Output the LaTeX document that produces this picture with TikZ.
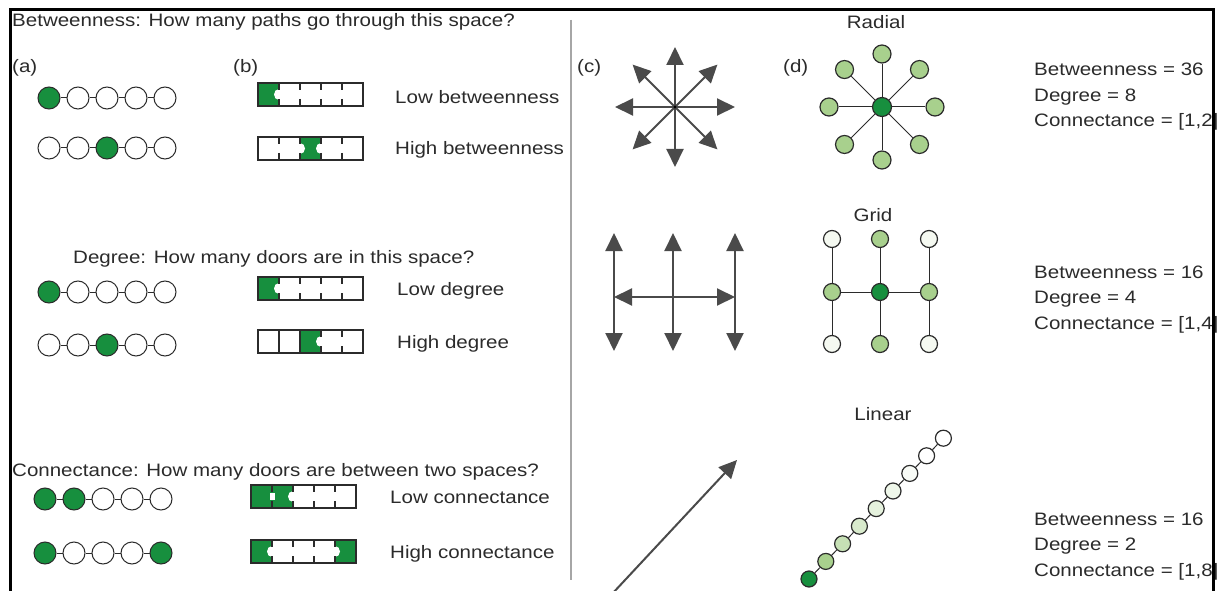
\documentclass[tikz,border=0pt]{standalone}
\usepackage{fontspec}
\setmainfont{Liberation Sans}[FakeStretch=1.14]
\usetikzlibrary{arrows.meta}
\definecolor{leaf}{HTML}{178F3E}
\definecolor{sage}{HTML}{A8D08D}
\definecolor{ink}{HTML}{2B2B2B}
\definecolor{steel}{HTML}{4A4A4A}
\newcommand{\doors}[1]{\foreach \w in {#1} \draw[wall] (\w,0) -- (\w,7) (\w,16) -- (\w,23);}
\newcommand{\notch}[1]{\foreach \w in {#1} \fill[white] (\w,11.5) ellipse (5 and 5.5);}

\begin{document}
\begin{tikzpicture}[x=1pt, y=-1pt,
  txt/.style={font=\fontsize{18}{21}\selectfont, text=ink, inner sep=0pt, anchor=base west},
  tag/.style={txt, anchor=base},
  room/.style={circle, draw=ink, line width=1pt, minimum size=22pt, inner sep=0pt, fill=white},
  knot/.style={circle, draw=ink, line width=1.2pt, minimum size=18pt, inner sep=0pt, fill=sage},
  link/.style={draw=ink, line width=1pt},
  wall/.style={draw=ink, line width=1.2pt},
  ray/.style={-{Triangle[length=18pt, width=17pt]}, steel, line width=2pt},
  flow/.style={{Triangle[length=18pt, width=17pt]}-{Triangle[length=18pt, width=17pt]}, steel, line width=2pt},
]
\useasboundingbox (0,0) rectangle (1218,591);
\fill[white] (0,0) rectangle (1218,591);

% (a) chains of spaces
\foreach \row/\y/\xa/\ga/\gb in {bl/98/49/1/0, bh/148/49/3/0, dl/292/49/1/0, dh/345/49/3/0, cl/499/45/1/2, ch/553/45/1/5} {
  \foreach \i in {1,...,5} {
    \pgfmathparse{ifthenelse(or(\i==\ga,\i==\gb),"leaf","white")}
    \edef\shade{\pgfmathresult}
    \node[room, fill=\shade] (\row\i) at ({\xa+29*(\i-1)},\y) {};
  }
  \foreach \i [evaluate=\i as \j using int(\i+1)] in {1,...,4}
    \draw[link] (\row\i) -- (\row\j);
}

% (b) floor plans
\begin{scope}[shift={(258,83)}]
  \fill[leaf] (0,0) rectangle (21,23);
  \notch{21}
  \doors{21,42,63,84}
  \draw[wall] (0,0) rectangle (105,23);
\end{scope}
\begin{scope}[shift={(258,137)}]
  \fill[leaf] (42,0) rectangle (63,23);
  \notch{42,63}
  \doors{21,42,63,84}
  \draw[wall] (0,0) rectangle (105,23);
\end{scope}
\begin{scope}[shift={(258,277)}]
  \fill[leaf] (0,0) rectangle (21,23);
  \notch{21}
  \doors{21,42,63,84}
  \draw[wall] (0,0) rectangle (105,23);
\end{scope}
\begin{scope}[shift={(258,330)}]
  \fill[leaf] (42,0) rectangle (63,23);
  \notch{63}
  \doors{63,84}
  \draw[wall] (21,0) -- (21,23) (42,0) -- (42,23);
  \draw[wall] (0,0) rectangle (105,23);
\end{scope}
\begin{scope}[shift={(251,485)}]
  \fill[leaf] (0,0) rectangle (42,23);
  \fill[white] (18.5,8) rectangle (23.5,15);
  \notch{42}
  \doors{21,42,63,84}
  \draw[wall] (0,0) rectangle (105,23);
\end{scope}
\begin{scope}[shift={(251,540)}]
  \fill[leaf] (0,0) rectangle (21,23) (84,0) rectangle (105,23);
  \notch{21,84}
  \doors{21,42,63,84}
  \draw[wall] (0,0) rectangle (105,23);
\end{scope}

\node[txt] (qbet) at (12,27) {Betweenness: How many paths go through this space?};
\node[txt] (pa) at (12,73) {(a)};
\node[txt] (pb) at (233,73) {(b)};
\node[txt] (lowbet) at (395,104) {Low betweenness};
\node[txt] (highbet) at (395,154) {High betweenness};
\node[txt] (qdeg) at (73,263) {Degree: How many doors are in this space?};
\node[txt] (lowdeg) at (397,295) {Low degree};
\node[txt] (highdeg) at (397,348) {High degree};
\node[txt] (qcon) at (12,476) {Connectance: How many doors are between two spaces?};
\node[txt] (lowcon) at (390,503) {Low connectance};
\node[txt] (highcon) at (390,558) {High connectance};

\draw[gray!70, line width=1.5pt] (571,20) -- (571,580);

% (c) movement
\node[txt] (pc) at (577,73) {(c)};
\coordinate (hub) at (675,107);
\foreach \a [count=\k] in {0,45,...,315} {
  \path (hub) ++(\a:60) coordinate (spoke\k);
  \draw[ray] (hub) -- (spoke\k);
}
\fill[black] (hub) circle (1.6);
\foreach \x [count=\k] in {614,673,735} {
  \coordinate (up\k) at (\x,233);
  \coordinate (dn\k) at (\x,351);
  \draw[flow] (up\k) -- (dn\k);
}
\coordinate (we) at (614,297);
\coordinate (ea) at (735,297);
\draw[flow] (we) -- (ea);
\coordinate (tail) at (612,594);
\coordinate (head) at (737,460);
\draw[ray] (tail) -- (head);

% (d) graphs
\node[txt] (pd) at (783,73) {(d)};
\node[tag] (radial) at (876,29) {Radial};
\node[knot, fill=leaf, minimum size=19pt] (core) at (882,107) {};
\foreach \a [count=\k] in {0,45,...,315} {
  \path (core) ++(\a:53) node[knot] (sat\k) {};
  \draw[link] (core) -- (sat\k);
}
\node[tag] (grid) at (873,221) {Grid};
\foreach \x [count=\c] in {832,880,929}
  \foreach \y [count=\r] in {239,292,344} {
    \pgfmathtruncatemacro\lvl{(\r==2)+(\c==2)}
    \pgfmathparse{{"sage!12","sage","leaf"}[\lvl]}
    \edef\shade{\pgfmathresult}
    \node[knot, minimum size=17pt, fill=\shade] (g\r\c) at (\x,\y) {};
  }
\foreach \c in {1,2,3}
  \draw[link] (g1\c) -- (g2\c) -- (g3\c);
\draw[link] (g21) -- (g22) -- (g23);
\node[tag] (linear) at (883,420) {Linear};
\foreach \s [count=\k] in {leaf,sage,sage!65,sage!45,sage!30,sage!18,sage!8,white,white}
  \node[knot, minimum size=16pt, fill=\s] (ln\k) at ({809+16.8*(\k-1)},{579-17.6*(\k-1)}) {};
\foreach \k [evaluate=\k as \n using int(\k+1)] in {1,...,8}
  \draw[link] (ln\k) -- (ln\n);

% measures
\foreach \y/\b/\d/\c in {76/36/8/2, 278/16/4/4, 525/16/2/8} {
  \node[txt] (bet\y) at (1034,\y) {Betweenness = \b};
  \node[txt] (deg\y) at (1034,\y+25.5) {Degree = \d};
  \node[txt] (con\y) at (1034,\y+51) {Connectance = [1,\c]};
}

\draw[line width=3pt] (10,591) -- (10,10) -- (1213,10) -- (1213,591);
\end{tikzpicture}
\end{document}
